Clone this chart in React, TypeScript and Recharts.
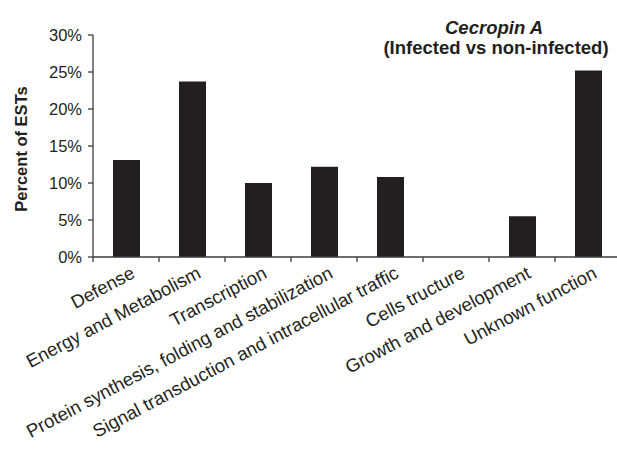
import React from "react";
import { BarChart, Bar, XAxis, YAxis } from "recharts";

const categories = [
  "Defense",
  "Energy and Metabolism",
  "Transcription",
  "Protein synthesis, folding and stabilization",
  "Signal transduction and intracellular traffic",
  "Cells tructure",
  "Growth and development",
  "Unknown function",
];
const percentValues = [13.1, 23.7, 10.0, 12.2, 10.8, 0, 5.5, 25.2];
const yTicks = [0, 5, 10, 15, 20, 25, 30];
const titleLine1 = "Cecropin A";
const titleLine2 = "(Infected vs non-infected)";
const yLabel = "Percent of ESTs";

const data = categories.map((c, i) => ({ name: c, value: percentValues[i] }));

const INK = "#231f20";
const AXIS = "#3c3c3c";
const FONT = "'Liberation Sans', Arial, sans-serif";

const XTick = (props: any) => {
  const { x, y, payload, index, visibleTicksCount, width } = props;
  const half =
    payload && typeof payload.offset === "number" && payload.offset > 0
      ? payload.offset
      : width / visibleTicksCount / 2;
  const isLast = index === visibleTicksCount - 1;
  return (
    <g>
      <line x1={x - half} x2={x - half} y1={y} y2={y + 5} stroke={AXIS} strokeWidth={1.3} />
      {isLast && (
        <line x1={x + half} x2={x + half} y1={y} y2={y + 5} stroke={AXIS} strokeWidth={1.3} />
      )}
      <g transform={`translate(${x},${y})`}>
        <text
          x={10}
          y={20}
          textAnchor="end"
          transform="rotate(-28, 10, 20)"
          fontSize={18.5}
          fontFamily={FONT}
          fill={INK}
        >
          {payload.value}
        </text>
      </g>
    </g>
  );
};

const YLabel = (props: any) => {
  const vb = props.viewBox || {};
  const cy = (vb.y ?? 35) + (vb.height ?? 222) / 2 + 3;
  return (
    <text
      x={27}
      y={cy}
      textAnchor="middle"
      transform={`rotate(-90, 27, ${cy})`}
      fontSize={16.5}
      fontWeight="bold"
      fontFamily={FONT}
      fill={INK}
    >
      {yLabel}
    </text>
  );
};

export default function App() {
  return (
    <div style={{ position: "fixed", left: 0, top: 0, width: 617, height: 449, background: "#fff" }}>
      <BarChart
        width={617}
        height={449}
        data={data}
        margin={{ top: 35, right: -4, left: 0, bottom: 2 }}
      >
        <XAxis
          dataKey="name"
          interval={0}
          height={190}
          tickLine={false}
          tickSize={0}
          tickMargin={0}
          axisLine={{ stroke: AXIS, strokeWidth: 1.3 }}
          tick={<XTick />}
        />
        <YAxis
          width={93}
          domain={[0, 30]}
          ticks={yTicks}
          interval={0}
          tickFormatter={(v: number) => `${v}%`}
          tickSize={5}
          tickMargin={6}
          tickLine={{ stroke: AXIS, strokeWidth: 1.3 }}
          axisLine={{ stroke: AXIS, strokeWidth: 1.3 }}
          tick={{ fontSize: 16.5, fontFamily: FONT, fill: INK }}
          label={<YLabel />}
        />
        <Bar dataKey="value" fill={INK} barSize={27} isAnimationActive={false} />
      </BarChart>
      <svg
        width={617}
        height={70}
        style={{ position: "absolute", left: 0, top: 0, pointerEvents: "none" }}
      >
        <text
          x={494}
          y={34}
          textAnchor="middle"
          fontSize={18.5}
          fontWeight="bold"
          fontStyle="italic"
          fontFamily={FONT}
          fill={INK}
        >
          {titleLine1}
        </text>
        <text
          x={496}
          y={54}
          textAnchor="middle"
          fontSize={18.5}
          fontWeight="bold"
          fontFamily={FONT}
          fill={INK}
        >
          {titleLine2}
        </text>
      </svg>
    </div>
  );
}
